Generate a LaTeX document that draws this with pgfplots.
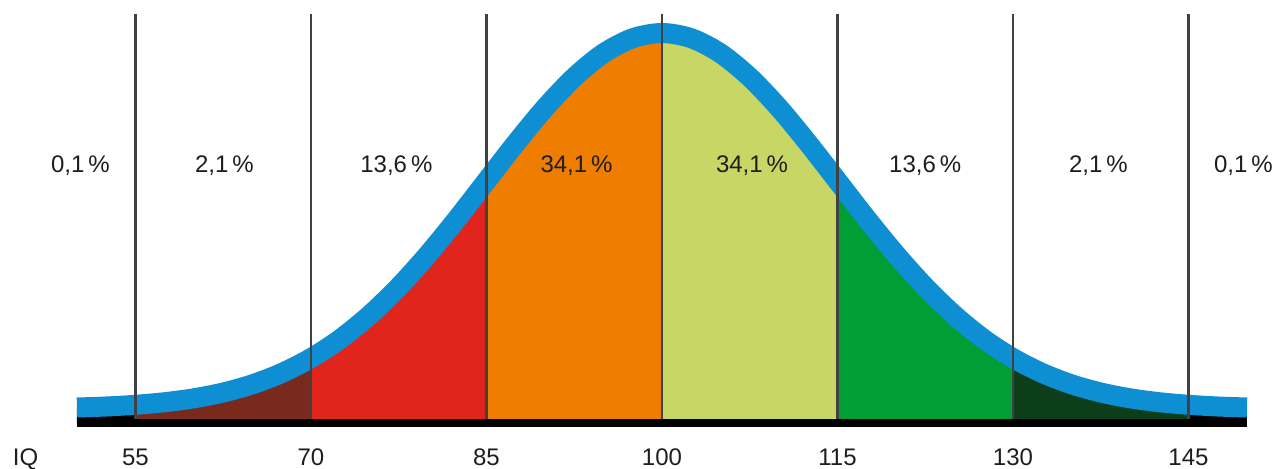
\documentclass[border=0pt]{standalone}
\usepackage{fontspec}
\setmainfont{Liberation Sans}
\usepackage{pgfplots}
\pgfplotsset{compat=1.18}
\usepackage{pgfplotstable}
\definecolor{cblue}{RGB}{14,142,211}
\definecolor{cbrown}{RGB}{122,42,28}
\definecolor{cred}{RGB}{226,37,28}
\definecolor{corange}{RGB}{238,125,0}
\definecolor{clime}{RGB}{200,214,102}
\definecolor{cgreen}{RGB}{0,158,52}
\definecolor{cdgreen}{RGB}{12,62,26}
\definecolor{cline}{RGB}{65,65,65}
\definecolor{ctext}{RGB}{30,30,30}
\pgfplotstableread{
x y
50 15.5
52.5 16.5
55 18.2
57.5 20.8
60 24.7
62.5 30.5
65 38.7
67.5 50.0
70 64.9
72.5 84.0
75 107.8
77.5 136.1
80 168.6
82.5 204.4
85 242.1
87.5 279.7
90 315.1
92.5 345.8
95 369.7
97.5 384.8
100 390.0
102.5 384.8
105 369.7
107.5 345.8
110 315.1
112.5 279.7
115 242.1
117.5 204.4
120 168.6
122.5 136.1
125 107.8
127.5 84.0
130 64.9
132.5 50.0
135 38.7
137.5 30.5
140 24.7
142.5 20.8
145 18.2
147.5 16.5
150 15.5
}\curve
\begin{document}
\begin{tikzpicture}
\begin{axis}[name=ax, at={(0,0)}, anchor=south west,
  scale only axis, width=638pt, height=211.5pt,
  xmin=43.42, xmax=152.48, ymin=0, ymax=423,
  axis line style={draw=none}, ytick=\empty,
  xtick={55,70,85,100,115,130,145},
  extra x ticks={45.6}, extra x tick labels={IQ},
  major tick length=0pt, tick style={draw=none},
  /pgf/number format/assume math mode=true,
  xticklabel style={font=\fontsize{12}{14}\selectfont, text=ctext, anchor=base, yshift=-21pt, inner sep=0pt},
  clip=false]
\addplot[fill=black, draw=none, restrict x to domain=50:55] table[x=x,y=y] {\curve} \closedcycle;
\addplot[fill=cbrown, draw=none, restrict x to domain=55:70] table[x=x,y=y] {\curve} \closedcycle;
\addplot[fill=cred, draw=none, restrict x to domain=70:85] table[x=x,y=y] {\curve} \closedcycle;
\addplot[fill=corange, draw=none, restrict x to domain=85:100] table[x=x,y=y] {\curve} \closedcycle;
\addplot[fill=clime, draw=none, restrict x to domain=100:115] table[x=x,y=y] {\curve} \closedcycle;
\addplot[fill=cgreen, draw=none, restrict x to domain=115:130] table[x=x,y=y] {\curve} \closedcycle;
\addplot[fill=cdgreen, draw=none, restrict x to domain=130:145] table[x=x,y=y] {\curve} \closedcycle;
\addplot[fill=black, draw=none, restrict x to domain=145:150] table[x=x,y=y] {\curve} \closedcycle;
\addplot[cblue, line width=10pt, smooth, line cap=butt] table[x=x,y=y] {\curve};
\addplot[ycomb, cline, line width=1.4pt, mark=none] coordinates {(55,409) (70,409) (85,409) (100,409) (115,409) (130,409) (145,409)};
\addplot[black, line width=4pt, mark=none] coordinates {(50,0) (150,0)};
\begin{scope}[every node/.style={font=\fontsize{12}{14}\selectfont, text=ctext, anchor=base, inner sep=0pt}]
\node at (50.3,251) {0,1\,\%};
\node at (62.6,251) {2,1\,\%};
\node at (77.3,251) {13,6\,\%};
\node at (92.7,251) {34,1\,\%};
\node at (107.7,251) {34,1\,\%};
\node at (122.5,251) {13,6\,\%};
\node at (137.3,251) {2,1\,\%};
\node at (149.7,251) {0,1\,\%};
\end{scope}
\end{axis}
\pgfresetboundingbox
\path (ax.south west) ++(0,-22.5pt) rectangle (ax.north east);
\end{tikzpicture}
\end{document}
